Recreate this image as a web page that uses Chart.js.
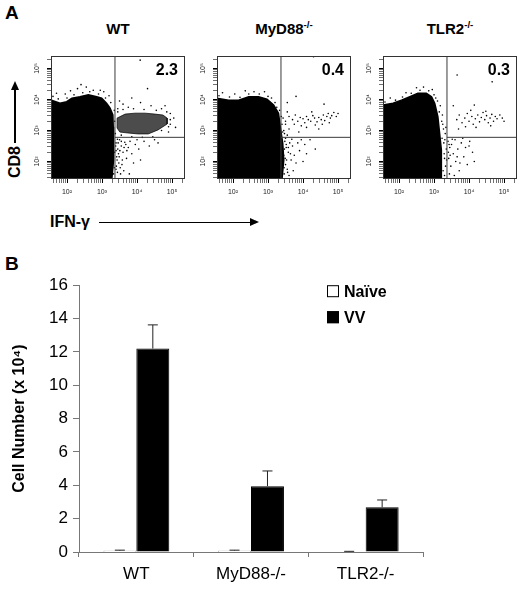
<!DOCTYPE html>
<html>
<head>
<meta charset="utf-8">
<script src="https://cdn.jsdelivr.net/npm/chart.js@4/dist/chart.umd.min.js"></script>
<style>
  body { margin: 0; background: #fff; font-family: Arial, "Liberation Sans", sans-serif; }
  #fig { position: relative; width: 520px; height: 593px; overflow: hidden; }
  canvas { position: absolute; }
  .lbl { position: absolute; font-weight: bold; color: #000; white-space: nowrap; }
  .panel { font-size: 19px; line-height: 20px; }
  .ttl { width: 120px; text-align: center; font-size: 15px; line-height: 18px; top: 20px; }
  .ttl sup { font-size: 0.65em; line-height: 0; vertical-align: 0.6em; }
  .bar { position: absolute; background: #000; }
  .head { position: absolute; width: 0; height: 0; }
</style>
</head>
<body>
<div id="fig">
  <div class="lbl panel" style="left:5px; top:3px;">A</div>
  <div class="lbl panel" style="left:5px; top:254px;">B</div>

  <div class="lbl ttl" style="left:58px;">WT</div>
  <div class="lbl ttl" style="left:224px;">MyD88<sup>-/-</sup></div>
  <div class="lbl ttl" style="left:390px;">TLR2<sup>-/-</sup></div>

  <div class="lbl" style="left:15px; top:162px; font-size:16px; transform:translate(-50%,-50%) rotate(-90deg);">CD8</div>
  <div class="bar" style="left:14px; top:89px; width:1.5px; height:54px;"></div>
  <div class="head" style="left:10.7px; top:81px; border-left:4px solid transparent; border-right:4px solid transparent; border-bottom:9px solid #000;"></div>

  <div class="lbl" style="left:50px; top:213px; font-size:16px; line-height:18px;">IFN-γ</div>
  <div class="bar" style="left:99px; top:221.5px; width:152px; height:1.5px;"></div>
  <div class="head" style="left:250px; top:218.2px; border-top:4px solid transparent; border-bottom:4px solid transparent; border-left:9px solid #000;"></div>

  <canvas id="dotWT" width="170" height="150" style="left:21px; top:46px;"></canvas>
  <canvas id="dotMyD88" width="170" height="150" style="left:187px; top:46px;"></canvas>
  <canvas id="dotTLR2" width="170" height="150" style="left:353px; top:46px;"></canvas>

  <canvas id="bars" width="520" height="323" style="left:0; top:270px;"></canvas>
</div>

<script>
const FONT = 'Arial, "Liberation Sans", sans-serif';
Chart.defaults.font.family = FONT;

// ---- panel A: dot plots, axes in log10 decades ----
const DOT_X_MIN = 1.543, DOT_X_MAX = 5.37;
const DOT_Y_MIN = 1.436, DOT_Y_MAX = 5.404;
const GATE_X = 3.37, GATE_Y = 2.78;
const decadeTicks = [2, 3, 4, 5];
const SUP = { 2: '²', 3: '³', 4: '⁴', 5: '⁵' };
const quadPct = ['2.3', '0.4', '0.3'];

// outline of the dense (saturated) population
const wtBlob = [[1.543,1.436],[1.543,3.98],[1.80,3.88],[1.99,3.93],[2.14,4.04],[2.37,4.09],[2.61,4.15],[2.85,4.09],[2.99,4.04],[3.13,3.88],[3.23,3.72],[3.31,3.50],[3.32,3.12],[3.34,2.69],[3.32,2.05],[3.28,1.436]];
const myd88Blob = [[1.543,1.436],[1.543,4.04],[1.875,3.98],[2.16,3.98],[2.45,4.09],[2.73,4.09],[2.97,4.01],[3.16,3.82],[3.30,3.56],[3.35,3.12],[3.42,2.59],[3.45,2.05],[3.40,1.436]];
const tlr2Blob = [[1.543,1.436],[1.543,3.82],[1.83,3.88],[2.07,3.98],[2.31,4.09],[2.54,4.20],[2.78,4.20],[2.93,4.09],[3.02,3.88],[3.11,3.45],[3.16,2.91],[3.21,2.37],[3.21,1.436]];

// CD8+ IFN-g+ cluster in WT
const wtCluster = [[3.43,3.40],[3.66,3.53],[3.94,3.56],[4.23,3.56],[4.51,3.53],[4.74,3.50],[4.86,3.40],[4.86,3.21],[4.60,3.02],[4.32,2.89],[4.03,2.89],[3.74,2.92],[3.51,2.95],[3.43,3.08]];

const wtDots = [
  [3.40,2.60],[3.45,2.40],[3.42,2.15],[3.50,2.70],[3.55,2.50],[3.48,1.95],[3.60,2.30],[3.52,1.80],[3.65,2.62],[3.70,2.10],
  [3.44,1.65],[3.58,2.05],[3.75,2.45],[3.62,1.70],[3.80,2.65],[3.85,2.25],[3.95,2.55],[4.05,2.40],[4.20,2.65],[4.10,2.05],
  [3.68,2.55],[3.47,2.25],[3.41,1.85],[3.55,2.65],[4.35,2.50],[4.50,2.70],[3.90,1.95],[3.78,1.60],[4.00,2.70],[4.60,2.60],
  [3.39,2.50],[3.43,2.05],[3.46,2.60],[3.40,1.75],[3.51,2.35],[3.44,2.72],[3.57,1.90],[3.49,2.15],[3.63,2.45],[3.40,2.35],
  [3.53,1.60],[3.71,2.35],
  [4.09,5.27],[3.60,3.85],[3.75,3.75],[4.10,3.90],[4.40,3.80],[4.70,3.70],[4.95,3.55],[5.05,3.40],[4.95,3.20],[3.50,3.95],
  [4.30,4.35],[3.85,4.05],[3.45,3.70],[4.80,3.80],[5.10,3.10],[4.90,2.95],
  [3.45,3.60],[3.60,3.68],[3.90,3.70],[4.20,3.68],[4.55,3.65],[4.85,3.60],[4.95,3.35],[4.90,3.12],[4.70,3.00],[4.45,2.80],
  [4.15,2.78],[3.85,2.80],[3.55,2.85],
  [1.60,4.10],[1.75,4.02],[2.00,4.05],[2.20,4.15],[2.45,4.22],[2.65,4.25],[2.90,4.18],[3.10,4.05],[3.25,3.90],[3.35,3.65],
  [2.30,4.35],[2.75,4.30],[3.36,3.30],[3.38,2.90],[3.36,2.30],[3.35,1.80],[3.33,1.60],
  [1.70,4.20],[2.10,4.28],[2.55,4.40],[2.95,4.30],[3.20,4.12],[1.95,4.18],[2.40,4.48],[3.05,4.25]
];
const myd88Dots = [
  [3.60,3.45],[3.70,3.35],[3.78,3.50],[3.85,3.30],[3.92,3.42],[4.00,3.38],[4.05,3.25],[4.10,3.45],[4.15,3.35],[4.22,3.30],
  [4.28,3.48],[4.33,3.40],[4.40,3.28],[4.45,3.42],[4.52,3.35],[4.58,3.50],[4.62,3.32],[4.68,3.45],[4.72,3.55],[4.78,3.40],
  [4.82,3.48],[4.88,3.58],[4.75,3.25],[4.55,3.20],[4.35,3.18],[3.95,3.15],[3.75,3.20],[3.55,3.60],[3.50,3.30],[4.25,3.60],
  [4.95,3.45],[5.00,3.55],[4.10,3.10],[3.88,2.95],[4.45,3.05],
  [4.30,5.38],[3.55,3.90],[3.80,4.10],[4.60,3.85],
  [3.48,2.65],[3.52,2.45],[3.45,2.20],[3.58,2.30],[3.62,2.60],[3.50,1.90],[3.55,1.75],[3.66,2.05],[3.70,2.50],[3.75,2.20],
  [3.80,1.95],[3.46,1.60],[3.85,2.60],[3.90,2.35],[4.00,2.00],[4.05,2.55],[3.60,1.55],[3.72,1.70],[4.20,2.70],[4.35,2.40],
  [3.95,2.70],[3.53,2.05],[3.68,2.72],[4.10,2.25],[3.47,2.40],
  [3.47,2.90],[3.52,2.55],[3.49,2.10],[3.58,2.45],[3.46,1.80],[3.64,2.25],[3.56,1.65],[3.50,2.75],
  [3.45,3.00],[3.50,3.20],[3.55,2.85],[3.43,3.40],[3.60,3.05],
  [1.60,4.12],[1.90,4.08],[2.20,4.07],[2.45,4.18],[2.75,4.18],[3.00,4.10],[3.20,3.90],[3.33,3.65],[2.60,4.25],[3.40,3.20],
  [1.70,4.22],[2.05,4.18],[2.35,4.28],[2.90,4.25],[3.10,4.05],[3.25,3.75],[3.38,3.45],[3.42,2.95]
];
const tlr2Dots = [
  [3.65,3.35],[3.72,3.50],[3.80,3.25],[3.88,3.40],[3.95,3.55],[4.00,3.30],[4.08,3.45],[4.12,3.20],[4.18,3.38],[4.25,3.50],
  [4.30,3.28],[4.35,3.42],[4.40,3.58],[4.45,3.35],[4.50,3.48],[4.55,3.25],[4.60,3.40],[4.65,3.52],[4.70,3.30],[4.75,3.45],
  [4.80,3.38],[4.88,3.50],[4.95,3.40],[5.00,3.30],[4.20,3.10],[3.90,3.12],[4.48,3.62],[4.62,3.15],[3.70,3.05],[4.05,3.65],
  [3.66,4.79],[4.66,4.57],[4.15,3.82],[3.55,3.80],
  [3.40,2.65],[3.45,2.45],[3.42,2.10],[3.50,2.55],[3.55,2.25],[3.48,1.85],[3.60,2.70],[3.62,2.00],[3.68,2.40],[3.72,1.70],
  [3.78,2.60],[3.85,2.15],[3.44,1.60],[3.90,2.45],[3.95,1.90],[4.02,2.65],[4.10,2.30],[3.58,1.55],[3.66,2.15],[3.52,2.72],
  [4.15,2.00],[3.82,2.75],[3.41,2.30],[3.74,1.95],[4.00,2.50],
  [3.25,3.20],[3.28,2.60],[3.30,2.10],[3.26,1.70],[3.32,2.90],[3.24,3.50],[3.30,1.55],[3.35,2.40],
  [3.27,3.05],[3.29,2.25],[3.33,1.85],[3.23,2.75],[3.36,2.05],[3.22,3.30],[3.31,2.70],[3.34,3.10],[3.43,2.55],[3.46,2.20],
  [1.60,3.92],[1.90,3.98],[2.10,4.08],[2.35,4.20],[2.60,4.30],[2.85,4.28],[3.00,4.15],[3.10,3.95],[3.15,3.60],[2.50,4.38],
  [1.75,4.05],[2.20,4.22],[2.70,4.40],[2.95,4.32],[3.05,4.05],[3.18,3.80]
];

// ---- panel B: bar chart ----
const groups = ['WT', 'MyD88-/-', 'TLR2-/-'];
const naive = [0.08, 0.08, 0.03];
const naiveErr = [0.03, 0.03, 0.01];
const vv = [12.2, 3.95, 2.68];
const vvErr = [1.42, 0.91, 0.44];

function toPts(arr, closed) {
  const pts = arr.map(([x, y]) => ({ x, y }));
  if (closed) pts.push(pts[0]);
  return pts;
}

function logTicks(min, max) {
  const out = [];
  for (let n = 1; n <= 5; n++) {
    for (let k = 1; k <= 9; k++) {
      const v = n + Math.log10(k);
      if (v >= min && v <= max) out.push({ value: v });
    }
  }
  return out;
}

const flowDecor = {
  id: 'flowDecor',
  afterDraw(chart, args, opts) {
    const { ctx, chartArea: a, scales } = chart;
    ctx.save();
    ctx.strokeStyle = '#333';
    ctx.lineWidth = 1;
    ctx.strokeRect(a.left + 0.5, a.top + 0.5, a.width - 1, a.height - 1);

    // rotated decade labels on the CD8 axis
    ctx.fillStyle = '#222';
    ctx.font = '7px ' + FONT;
    ctx.textAlign = 'center';
    ctx.textBaseline = 'middle';
    decadeTicks.forEach(n => {
      const y = scales.y.getPixelForValue(n);
      ctx.save();
      ctx.translate(a.left - 14, y);
      ctx.rotate(-Math.PI / 2);
      ctx.fillText('10' + SUP[n], 0, 0);
      ctx.restore();
    });

    ctx.fillStyle = '#000';
    ctx.font = 'bold 16px ' + FONT;
    ctx.textAlign = 'right';
    ctx.fillText(opts.pct, a.right - 7, a.top + 15);
    ctx.restore();
  }
};

function axisGrid() {
  return {
    drawOnChartArea: false,
    tickLength: 4,
    color: c => (c.tick && Number.isInteger(c.tick.value)) ? '#000' : '#333',
    lineWidth: c => (c.tick && Number.isInteger(c.tick.value)) ? 1 : 0.7
  };
}

function dotPlot(id, blob, cluster, dots, pct) {
  const sets = [
    { data: toPts([[GATE_X, DOT_Y_MIN], [GATE_X, DOT_Y_MAX]]), showLine: true, borderColor: '#3a3a3a', borderWidth: 1, pointRadius: 0, order: 0 },
    { data: toPts([[GATE_X, GATE_Y], [DOT_X_MAX, GATE_Y]]), showLine: true, borderColor: '#3a3a3a', borderWidth: 1, pointRadius: 0, order: 0 },
    { data: toPts(dots), pointRadius: 0.8, backgroundColor: '#000', borderWidth: 0, order: 1 }
  ];
  if (cluster) {
    sets.push({ data: toPts(cluster, true), showLine: true, fill: 'shape', backgroundColor: 'rgba(0,0,0,0.7)',
      borderColor: 'rgba(0,0,0,0.7)', borderWidth: 1, pointRadius: 0, order: 2 });
  }
  sets.push({ data: toPts(blob, true), showLine: true, fill: 'shape', backgroundColor: '#000',
    borderColor: '#000', borderWidth: 1.5, pointRadius: 0, order: 3 });

  return new Chart(document.getElementById(id), {
    type: 'scatter',
    data: { datasets: sets },
    options: {
      responsive: false,
      animation: false,
      events: [],
      layout: { padding: { left: 10, top: 10, right: 6, bottom: 0 } },
      plugins: { legend: { display: false }, tooltip: { enabled: false }, flowDecor: { pct } },
      scales: {
        x: {
          type: 'linear', min: DOT_X_MIN, max: DOT_X_MAX,
          afterBuildTicks: s => { s.ticks = logTicks(DOT_X_MIN, DOT_X_MAX); },
          afterFit: s => { s.height = 17; },
          grid: axisGrid(),
          border: { display: false },
          ticks: {
            autoSkip: false, maxRotation: 0, padding: 5, color: '#222', font: { size: 7 },
            callback: v => decadeTicks.includes(v) ? '10' + SUP[v] : ''
          }
        },
        y: {
          type: 'linear', min: DOT_Y_MIN, max: DOT_Y_MAX,
          afterBuildTicks: s => { s.ticks = logTicks(DOT_Y_MIN, DOT_Y_MAX); },
          afterFit: s => { s.width = 20; },
          grid: axisGrid(),
          border: { display: false },
          ticks: { autoSkip: false, font: { size: 7 }, callback: () => '' }
        }
      }
    },
    plugins: [flowDecor]
  });
}

dotPlot('dotWT', wtBlob, wtCluster, wtDots, quadPct[0]);
dotPlot('dotMyD88', myd88Blob, null, myd88Dots, quadPct[1]);
dotPlot('dotTLR2', tlr2Blob, null, tlr2Dots, quadPct[2]);

const errorBars = {
  id: 'errorBars',
  afterDatasetsDraw(chart) {
    const { ctx, scales: { y } } = chart;
    ctx.save();
    ctx.strokeStyle = '#222';
    ctx.lineWidth = 1;
    chart.data.datasets.forEach((ds, i) => {
      chart.getDatasetMeta(i).data.forEach((bar, j) => {
        const top = y.getPixelForValue(ds.data[j] + ds.errors[j]);
        ctx.beginPath();
        ctx.moveTo(bar.x, bar.y);
        ctx.lineTo(bar.x, top);
        ctx.moveTo(bar.x - 5, top);
        ctx.lineTo(bar.x + 5, top);
        ctx.stroke();
      });
    });
    ctx.restore();
  }
};

const boxLegend = {
  id: 'boxLegend',
  afterDraw(chart) {
    const { ctx, chartArea: a } = chart;
    ctx.save();
    chart.data.datasets.forEach((ds, i) => {
      const x = a.left + 248, y = a.top + i * 26;
      ctx.fillStyle = ds.backgroundColor;
      ctx.fillRect(x, y, 12, 12);
      ctx.strokeStyle = '#000';
      ctx.lineWidth = 1;
      ctx.strokeRect(x + 0.5, y + 0.5, 11, 11);
      ctx.fillStyle = '#000';
      ctx.font = 'bold 16px ' + FONT;
      ctx.textAlign = 'left';
      ctx.textBaseline = 'middle';
      ctx.fillText(ds.label, x + 17, y + 7);
    });
    ctx.restore();
  }
};

new Chart(document.getElementById('bars'), {
  type: 'bar',
  data: {
    labels: groups,
    datasets: [
      { label: 'Naïve', data: naive, errors: naiveErr, backgroundColor: '#fff', borderColor: '#000', borderWidth: 1 },
      { label: 'VV', data: vv, errors: vvErr, backgroundColor: '#000', borderColor: '#000', borderWidth: 1 }
    ]
  },
  options: {
    responsive: false,
    animation: false,
    events: [],
    layout: { padding: { left: 0, top: 13, right: 97, bottom: 0 } },
    datasets: { bar: { categoryPercentage: 0.575, barPercentage: 1 } },
    plugins: { legend: { display: false }, tooltip: { enabled: false } },
    scales: {
      x: {
        afterFit: s => { s.height = 41; },
        grid: { offset: true, drawOnChartArea: false, tickLength: 5, color: '#777' },
        border: { color: '#777' },
        ticks: { color: '#000', font: { size: 17 }, padding: 7 }
      },
      y: {
        min: 0, max: 16,
        afterFit: s => { s.width = 79; },
        grid: { drawOnChartArea: false, tickLength: 6, color: '#777' },
        border: { color: '#777' },
        ticks: { stepSize: 2, color: '#000', font: { size: 17 }, padding: 5 },
        title: { display: true, text: 'Cell Number (x 10⁴)', color: '#000', font: { size: 16, weight: 'bold' }, padding: { top: 10, bottom: 0 } }
      }
    }
  },
  plugins: [errorBars, boxLegend]
});
</script>
</body>
</html>
